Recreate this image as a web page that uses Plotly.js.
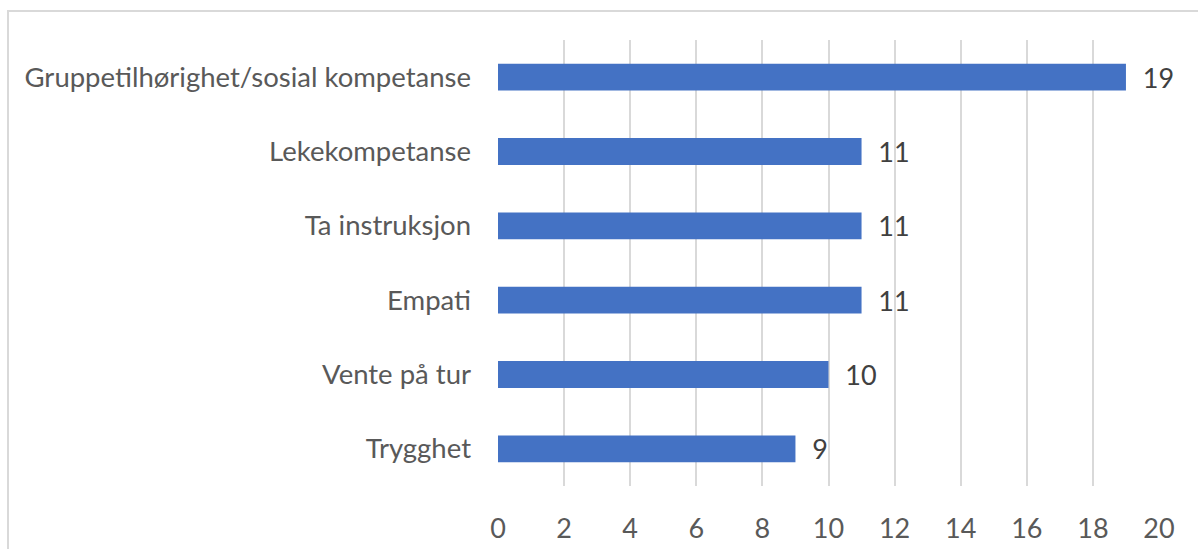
<!DOCTYPE html>
<html>
<head>
<meta charset="utf-8">
<script src="https://cdn.plot.ly/plotly-3.0.1.min.js"></script>
<style>
html,body{margin:0;padding:0;background:#fff;}
#frame{position:absolute;left:7px;top:10px;width:1300px;height:700px;border-left:2px solid #d9d9d9;border-top:2px solid #d9d9d9;}
#chart{position:absolute;left:0;top:0;width:1198px;height:549px;}
</style>
</head>
<body>
<div id="frame"></div>
<div id="chart"></div>
<script>
var categories = ["Trygghet", "Vente på tur", "Empati", "Ta instruksjon", "Lekekompetanse", "Gruppetilhørighet/sosial kompetanse"];
var values = [9, 10, 11, 11, 11, 19];
var xTicks = [0, 2, 4, 6, 8, 10, 12, 14, 16, 18, 20];

var font = "Lato, 'Open Sans', sans-serif";
var trace = {
  type: 'bar',
  orientation: 'h',
  y: categories,
  x: values,
  marker: {color: '#4472c4'},
  text: values.map(function(v){return '\u00a0\u00a0' + v;}),
  textposition: 'outside',
  constraintext: 'none',
  textfont: {family: font, size: 27, color: '#404040'},
  cliponaxis: false,
  hoverinfo: 'none'
};
var layout = {
  width: 1198, height: 549,
  margin: {l: 498, r: 39, t: 40, b: 62.5},
  paper_bgcolor: 'rgba(0,0,0,0)',
  plot_bgcolor: 'rgba(0,0,0,0)',
  bargap: 0.64,
  showlegend: false,
  xaxis: {
    range: [0, 20],
    tickvals: xTicks,
    showgrid: true, gridcolor: '#d9d9d9', gridwidth: 2,
    zeroline: false, showline: false,
    ticks: '',
    ticklabelstandoff: 24,
    tickfont: {family: font, size: 27, color: '#595959'},
    fixedrange: true
  },
  yaxis: {
    type: 'category',
    showgrid: false, zeroline: false, showline: false,
    ticks: '',
    ticklabelstandoff: 26,
    tickfont: {family: font, size: 27.5, color: '#595959'},
    fixedrange: true
  }
};
Plotly.newPlot('chart', [trace], layout, {displayModeBar: false, staticPlot: true});
</script>
</body>
</html>
